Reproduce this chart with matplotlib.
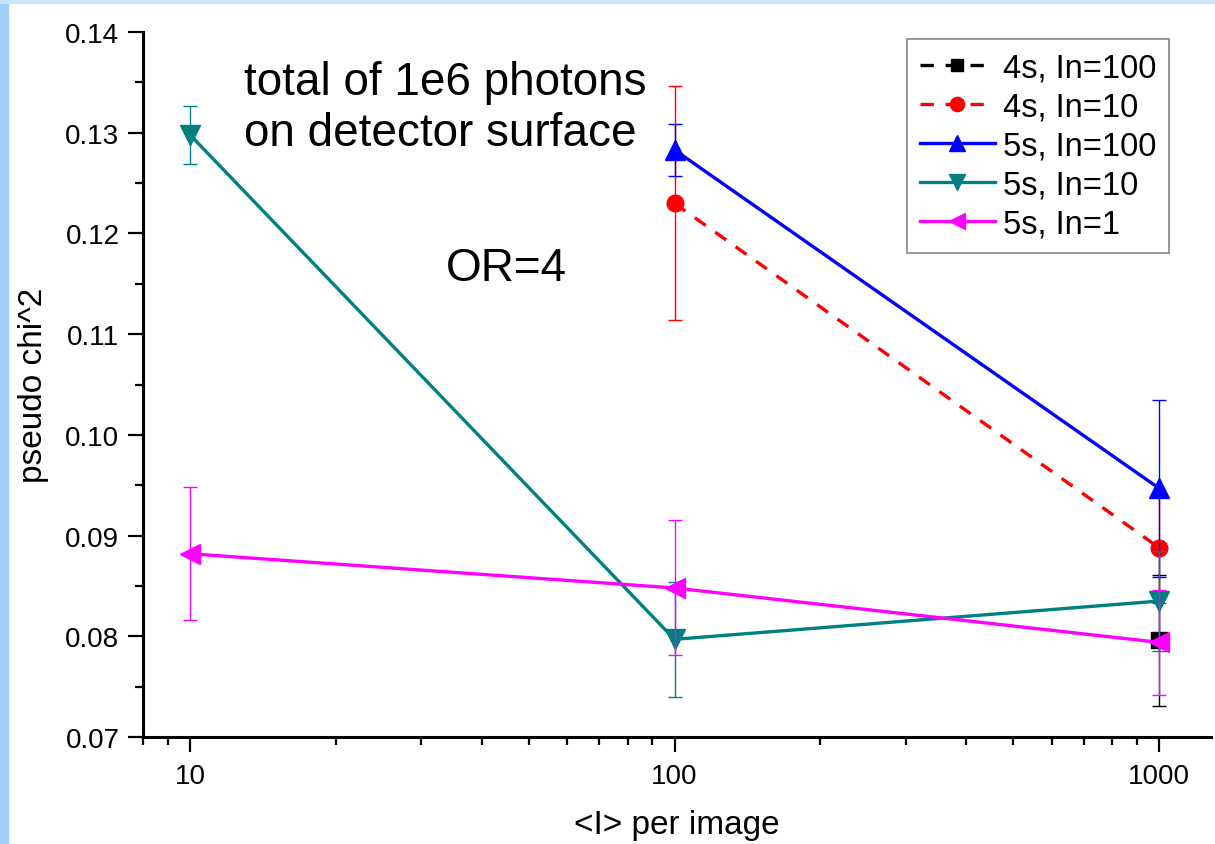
import numpy as np
import matplotlib.pyplot as plt
from matplotlib.patches import Rectangle
from matplotlib.ticker import MultipleLocator, FormatStrFormatter, LogLocator, NullFormatter, FixedLocator

plt.rcParams['font.family'] = ['Liberation Sans', 'DejaVu Sans']

# data
labels = ['4s, In=100', '4s, In=10', '5s, In=100', '5s, In=10', '5s, In=1']
x_4s_100 = [1000]
y_4s_100 = [0.0796]
e_4s_100 = [0.0065]
x_4s_10 = [100, 1000]
y_4s_10 = [0.1230, 0.0888]
e_4s_10 = [0.0116, 0.0055]
x_5s_100 = [100, 1000]
y_5s_100 = [0.1283, 0.0947]
e_5s_100 = [0.0026, 0.0088]
x_5s_10 = [10, 100, 1000]
y_5s_10 = [0.1298, 0.0797, 0.0835]
e_5s_10 = [0.0029, 0.0057, 0.0050]
x_5s_1 = [10, 100, 1000]
y_5s_1 = [0.0882, 0.0848, 0.0794]
e_5s_1 = [0.0066, 0.0067, 0.0052]

fig = plt.figure(figsize=(12.15, 8.45), dpi=100)
# blue slide border
fig.patches.append(Rectangle((0, 0), 8/1215, 1, transform=fig.transFigure, color='#9fd0f5', zorder=-1))
fig.patches.append(Rectangle((0, 1 - 4/845), 1, 4/845, transform=fig.transFigure, color='#c9e4f8', zorder=-1))

ax = fig.add_axes([0.1177, 0.1266, 0.879, 0.8343])

series = [
    (x_4s_100, y_4s_100, e_4s_100, 'black', 's', '--', 11),
    (x_4s_10, y_4s_10, e_4s_10, 'red', 'o', '--', 12),
    (x_5s_100, y_5s_100, e_5s_100, 'blue', '^', '-', 14),
    (x_5s_10, y_5s_10, e_5s_10, '#008080', 'v', '-', 14),
    (x_5s_1, y_5s_1, e_5s_1, 'magenta', '<', '-', 14),
]
for (x, y, e, c, m, ls, ms), lab in zip(series, labels):
    ax.errorbar(x, y, yerr=e, fmt='none', ecolor=c, elinewidth=1, capsize=5, capthick=1)
    line, = ax.plot(x, y, color=c, marker=m, ls=ls, lw=2.4, ms=ms, label=lab)
    if ls == '--':
        line.set_dashes((4, 3.5))

ax.set_xscale('log')
ax.set_xlim(8, 1280)
ax.set_ylim(0.07, 0.14)
ax.xaxis.set_major_locator(FixedLocator([10, 100, 1000]))
ax.xaxis.set_major_formatter(FormatStrFormatter('%d'))
ax.xaxis.set_minor_locator(LogLocator(base=10, subs=np.arange(2, 10)))
ax.xaxis.set_minor_formatter(NullFormatter())
ax.yaxis.set_major_locator(MultipleLocator(0.01))
ax.yaxis.set_minor_locator(MultipleLocator(0.005))
ax.yaxis.set_major_formatter(FormatStrFormatter('%.2f'))

for s in ['top', 'right']:
    ax.spines[s].set_visible(False)
for s in ['left', 'bottom']:
    ax.spines[s].set_linewidth(2.2)
ax.tick_params(which='major', length=11, width=1.6, labelsize=20, direction='out')
ax.tick_params(which='minor', length=6, width=1.6, direction='out')
ax.tick_params(axis='x', pad=8)
ax.tick_params(axis='y', pad=6)

ax.set_xlabel('<I> per image', fontsize=24, labelpad=14)
ax.set_ylabel('pseudo chi^2', fontsize=24, labelpad=12)

ax.text(0.095, 0.96, 'total of 1e6 photons\non detector surface', transform=ax.transAxes,
        fontsize=33, va='top', ha='left', linespacing=1.2)
ax.text(0.284, 0.665, 'OR=4', transform=ax.transAxes, fontsize=33, va='center', ha='left')

leg = ax.legend(loc='upper right', bbox_to_anchor=(0.961, 0.99), fontsize=23.5, frameon=True,
                fancybox=False, edgecolor='#666666', handlelength=2.3, handletextpad=0.25,
                labelspacing=0.25, borderpad=0.4, borderaxespad=0, markerscale=0.85)
leg.get_frame().set_linewidth(1.2)

fig.savefig('out.png', dpi=100, facecolor='white')
